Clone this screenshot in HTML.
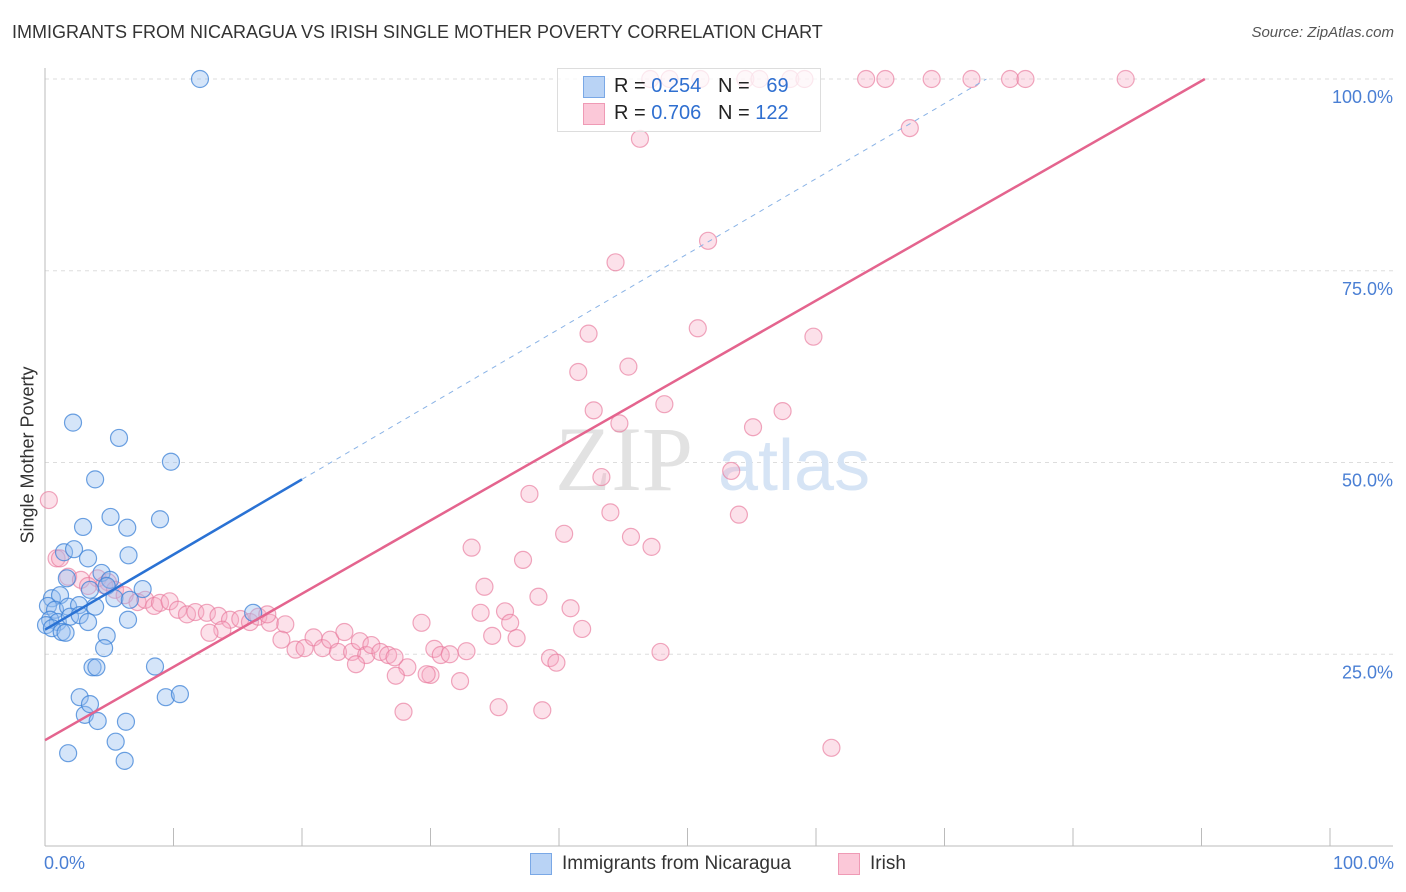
<!DOCTYPE html>
<html><head><meta charset="utf-8"><style>
body{margin:0;background:#fff;font-family:"Liberation Sans",sans-serif;}
#wrap{position:relative;width:1406px;height:892px;overflow:hidden;}
.t{position:absolute;white-space:nowrap;}
</style></head><body>
<div id="wrap">
<div class="t" style="left:12px;top:22px;font-size:18px;color:#333;">IMMIGRANTS FROM NICARAGUA VS IRISH SINGLE MOTHER POVERTY CORRELATION CHART</div>
<div class="t" style="right:12px;top:24px;font-size:15px;color:#555;font-style:italic;">Source: ZipAtlas.com</div>
<svg id="svg" width="1406" height="892" style="position:absolute;left:0;top:0"></svg>
</div>
<script>
const blueX=[12.06,2.18,5.76,9.8,3.9,5.1,8.95,2.96,6.4,1.48,2.26,3.35,6.5,4.4,5.06,1.7,7.6,3.5,4.8,5.4,0.54,1.17,0.23,0.78,1.8,2.65,3.9,6.6,0.4,1.0,1.95,2.7,3.35,0.08,0.54,1.3,1.6,4.8,6.46,4.6,3.7,4.0,8.56,2.7,3.1,3.5,4.1,9.4,10.5,6.3,5.5,6.2,1.8,16.2];
const blueY=[100,55.2,53.2,50.1,47.8,42.9,42.6,41.6,41.5,38.3,38.7,37.5,37.9,35.6,34.7,34.9,33.5,33.4,33.9,32.3,32.3,32.7,31.3,30.8,31.2,31.4,31.2,32.1,29.5,29.2,29.9,30.1,29.2,28.8,28.4,27.9,27.8,27.4,29.5,25.8,23.3,23.3,23.4,19.4,17.1,18.5,16.3,19.4,19.8,16.2,13.6,11.1,12.1,30.4];
const pinkX=[47.1,48.6,51.0,54.5,55.6,58.0,59.1,63.9,65.4,69.0,72.1,75.1,76.3,84.1,67.3,46.3,51.6,44.4,42.3,50.8,59.8,41.5,45.4,48.2,42.7,44.7,57.4,55.1,53.4,43.3,37.7,54.0,44.0,40.4,45.6,33.2,47.2,37.2,0.3,0.9,34.2,38.4,33.9,35.8,40.9,29.3,36.2,34.8,36.7,41.8,39.3,39.8,47.9,30.3,30.8,31.5,32.8,28.2,30.0,27.3,29.7,32.3,35.3,38.7,27.9,61.2,1.8,1.17,2.8,4.1,4.9,3.35,4.6,5.45,6.2,7.2,7.8,8.5,8.95,9.7,10.35,11.05,11.7,12.6,13.5,14.4,15.2,15.95,16.6,17.5,18.7,18.4,19.5,20.2,20.9,21.6,22.2,22.8,23.3,23.9,24.5,25.0,25.4,26.1,26.7,24.2,27.2,17.3,13.8,12.8];
const pinkY=[100,100,100,100,100,100,100,100,100,100,100,100,100,100,93.6,92.2,78.9,76.1,66.8,67.5,66.4,61.8,62.5,57.6,56.8,55.1,56.7,54.6,48.9,48.1,45.9,43.2,43.5,40.7,40.3,38.9,39.0,37.3,45.1,37.5,33.8,32.5,30.4,30.6,31.0,29.1,29.1,27.4,27.1,28.3,24.5,23.9,25.3,25.7,24.9,25.0,25.4,23.3,22.3,22.2,22.4,21.5,18.1,17.7,17.5,12.8,35.1,37.5,34.7,34.9,34.4,33.9,34.0,33.4,32.7,31.8,32.1,31.3,31.7,31.9,30.8,30.2,30.5,30.4,30.0,29.5,29.6,29.2,29.9,29.1,28.9,26.9,25.6,25.8,27.2,25.8,26.9,25.3,27.9,25.3,26.7,24.9,26.2,25.3,24.9,23.7,24.6,30.2,28.2,27.8];
const blueTrend=[28.2,0.98];
const pinkTrend=[13.8,0.955];
const yTicks=[25,50,75,100];
const yTickLabels=["25.0%","50.0%","75.0%","100.0%"];

const NS="http://www.w3.org/2000/svg",svg=document.getElementById('svg');
const X=v=>45+v*12.85, Y=v=>79+(100-v)*7.67;
function mk(t,a){const e=document.createElementNS(NS,t);for(const k in a)e.setAttribute(k,a[k]);svg.appendChild(e);return e;}
// gridlines
yTicks.forEach((v,i)=>{
 const g=mk('line',{x1:45,x2:1393,y1:Y(v),y2:Y(v),stroke:'#ddd','stroke-dasharray':'4,4'});
 
 
 const t=mk('text',{x:1393,y:Y(v)+24,'text-anchor':'end','font-size':18,fill:'#4a7fd4','font-family':'Liberation Sans, sans-serif'});
 t.textContent=yTickLabels[i];
 
 
});
// axes
let ax=mk('line',{x1:45,x2:45,y1:68,y2:846,stroke:'#bbb'});


ax=mk('line',{x1:45,x2:1393,y1:846,y2:846,stroke:'#bbb'});


for(let i=0;i<=10;i++){const tk=mk('line',{x1:X(i*10),x2:X(i*10),y1:828,y2:846,stroke:'#bbb'});

}
// watermark
let w=mk('text',{x:555,y:490,'font-size':92,fill:'#e2e2e2','font-family':'Liberation Serif, serif'});w.textContent='ZIP';


w=mk('text',{x:718,y:490,'font-size':72,fill:'#d6e4f5','font-family':'Liberation Sans, sans-serif'});w.textContent='atlas';


// points
function pts(xs,ys,fill,stroke,name){xs.forEach((x,i)=>{const c=mk('circle',{cx:X(x),cy:Y(ys[i]),r:8.5,fill:fill,stroke:stroke,'stroke-width':1.2});

});}
pts(pinkX,pinkY,'rgba(246,170,195,0.35)','rgba(232,120,155,0.65)','irish-point');
pts(blueX,blueY,'rgba(150,190,240,0.4)','rgba(60,130,215,0.75)','nicaragua-point');
// trends
let l=mk('line',{x1:X(0),y1:Y(blueTrend[0]),x2:X(20),y2:Y(blueTrend[0]+blueTrend[1]*20),stroke:'#2a72d4','stroke-width':2.5});


const xe=(100-blueTrend[0])/blueTrend[1];
l=mk('line',{x1:X(20),y1:Y(blueTrend[0]+blueTrend[1]*20),x2:X(xe),y2:Y(100),stroke:'#8ab3e6','stroke-width':1,'stroke-dasharray':'5,5'});


const pe=(100-pinkTrend[0])/pinkTrend[1];
l=mk('line',{x1:X(0),y1:Y(pinkTrend[0]),x2:X(pe),y2:Y(100),stroke:'#e4648e','stroke-width':2.5});


</script>
<div class="t" style="left:557px;top:68px;width:262px;height:62px;border:1px solid #ddd;background:rgba(255,255,255,0.75);">
 <div class="t" style="left:25px;top:7px;width:20px;height:20px;background:#b9d3f5;border:1px solid #7aa8e6;"></div>
 <div class="t" style="left:56px;top:6px;font-size:20px;color:#222;">R = <span style="color:#2f6fd0">0.254</span>&nbsp;&nbsp;&nbsp;N = &nbsp;&nbsp;<span style="color:#2f6fd0">69</span></div>
 <div class="t" style="left:25px;top:34px;width:20px;height:20px;background:#fbc8d8;border:1px solid #ef9ab5;"></div>
 <div class="t" style="left:56px;top:33px;font-size:20px;color:#222;">R = <span style="color:#2f6fd0">0.706</span>&nbsp;&nbsp;&nbsp;N = <span style="color:#2f6fd0">122</span></div>
</div>
<div class="t" style="left:18px;top:455px;transform:translate(-50%,-50%) rotate(-90deg);transform-origin:center;left:28px;font-size:18px;color:#333;">Single Mother Poverty</div>
<div class="t" style="left:44px;top:853px;font-size:18px;color:#4a7fd4;">0.0%</div>
<div class="t" style="right:12px;top:853px;font-size:18px;color:#4a7fd4;">100.0%</div>
<div class="t" style="left:530px;top:853px;width:20px;height:20px;background:#b9d3f5;border:1px solid #7aa8e6;"></div>
<div class="t" style="left:562px;top:853px;font-size:19px;color:#333;">Immigrants from Nicaragua</div>
<div class="t" style="left:838px;top:853px;width:20px;height:20px;background:#fbc8d8;border:1px solid #ef9ab5;"></div>
<div class="t" style="left:870px;top:853px;font-size:19px;color:#333;">Irish</div>
</body></html>
